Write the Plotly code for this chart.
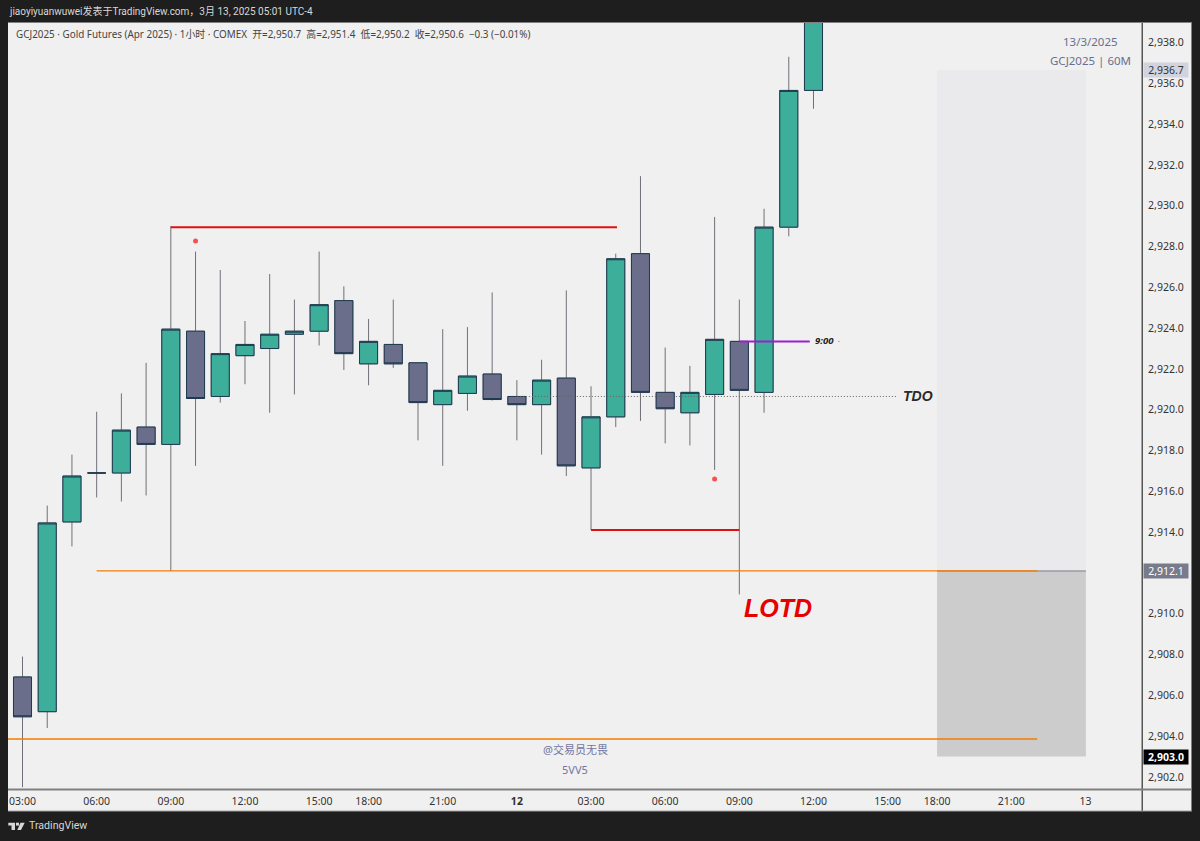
import plotly.graph_objects as go

# ---------- data ----------
opens = [2906.9, 2905.2, 2914.5, 2916.9, 2916.9, 2919.15, 2918.3, 2923.85, 2920.65, 2922.65, 2923.0,
         2923.7, 2923.85, 2925.35, 2922.25, 2923.2, 2922.3, 2920.25, 2920.8, 2921.75, 2920.65, 2920.25,
         2921.55, 2917.15, 2919.65, 2927.65, 2920.85, 2919.85, 2920.75, 2923.35, 2920.85, 2928.95, 2935.65]
closes = [2904.95, 2914.45, 2916.75, 2916.9, 2919.0, 2918.3, 2923.95, 2920.55, 2922.75, 2923.2, 2923.7,
          2923.85, 2925.15, 2922.75, 2923.35, 2922.25, 2920.35, 2920.95, 2921.65, 2920.5, 2920.25, 2921.45,
          2917.25, 2919.65, 2927.4, 2920.85, 2920.05, 2920.85, 2923.45, 2920.95, 2928.95, 2935.65, 2940.5]
highs = [2907.9, 2915.3, 2917.8, 2919.9, 2920.8, 2922.3, 2929.0, 2927.75, 2926.85, 2924.35, 2926.65,
         2925.4, 2927.75, 2926.05, 2924.45, 2925.4, 2922.3, 2923.95, 2924.05, 2925.75, 2921.45, 2922.45,
         2925.85, 2921.15, 2927.65, 2931.45, 2923.05, 2922.15, 2929.45, 2925.4, 2929.85, 2937.3, 2941.0]
lows = [2901.5, 2904.4, 2913.3, 2915.7, 2915.5, 2915.8, 2912.1, 2917.25, 2920.35, 2921.25, 2919.85,
        2920.75, 2923.15, 2921.95, 2921.2, 2922.05, 2918.5, 2917.25, 2919.95, 2920.45, 2918.5, 2917.8,
        2916.75, 2914.1, 2919.15, 2919.45, 2918.35, 2918.25, 2917.05, 2910.95, 2919.85, 2928.5, 2934.75]
bar_index = list(range(len(opens)))

tick_positions = [0, 3, 6, 9, 12, 14, 17, 20, 23, 26, 29, 32, 35, 37, 40, 43]
tick_labels = ["03:00", "06:00", "09:00", "12:00", "15:00", "18:00", "21:00", "<b>12</b>", "03:00", "06:00",
               "09:00", "12:00", "15:00", "18:00", "21:00", "13"]
price_ticks = [2902, 2904, 2906, 2908, 2910, 2914, 2916, 2918, 2920, 2922, 2924, 2926, 2928, 2930, 2932, 2934,
               2936, 2938]
dot_index = [7, 28]
dot_price = [2928.27, 2916.6]

FONT = "Noto Sans, Noto Sans CJK SC, sans-serif"
UP, DOWN, EDGE, WICK = "#3CAE9A", "#6B6E8A", "#1F3A50", "#707078"
BG, DARK = "#F0F0F0", "#1E1E1E"

# ---------- pixel helpers for the frame ----------
L, R, T, B = 8, 1142, 22, 789
px = lambda x: (x - L) / (R - L)
py = lambda y: (B - y) / (B - T)

fig = go.Figure()
fig.add_trace(go.Candlestick(
    x=bar_index, open=opens, high=highs, low=lows, close=closes, whiskerwidth=0, hoverinfo="skip", showlegend=False,
    increasing=dict(line=dict(color=WICK, width=1), fillcolor=UP),
    decreasing=dict(line=dict(color=WICK, width=1), fillcolor=DOWN)))
fig.add_trace(go.Candlestick(
    x=bar_index, open=opens, close=closes,
    high=[max(a, b) for a, b in zip(opens, closes)], low=[min(a, b) for a, b in zip(opens, closes)],
    whiskerwidth=0, hoverinfo="skip", showlegend=False,
    increasing=dict(line=dict(color=EDGE, width=1), fillcolor=UP),
    decreasing=dict(line=dict(color=EDGE, width=1), fillcolor=DOWN)))
fig.add_trace(go.Scatter(x=dot_index, y=dot_price, mode="markers", hoverinfo="skip", showlegend=False,
                         marker=dict(color="#F65050", size=5)))

shapes = []
def paper_rect(x0, y0, x1, y1, fill, layer="below"):
    shapes.append(dict(type="rect", xref="paper", yref="paper", x0=px(x0), x1=px(x1), y0=py(y0), y1=py(y1),
                       fillcolor=fill, line_width=0, layer=layer))
def data_line(x0, x1, y, color, width, dash="solid"):
    shapes.append(dict(type="line", xref="x", yref="y", x0=x0, x1=x1, y0=y, y1=y,
                       line=dict(color=color, width=width, dash=dash), layer="above"))

# frame
paper_rect(8, 22, 1192, 811, BG)
# position tool
shapes.append(dict(type="rect", xref="x", yref="y", x0=37, x1=43.02, y0=2912.1, y1=2936.65,
                   fillcolor="#EAEAEC", line_width=0, layer="below"))
shapes.append(dict(type="rect", xref="x", yref="y", x0=37, x1=43.02, y0=2903.0, y1=2912.1,
                   fillcolor="#CCCCCC", line_width=0, layer="below"))
data_line(37, 43.02, 2912.1, "#9A9AA4", 1.5)
# levels
data_line(6, 24.05, 2928.95, "#E01010", 2)
data_line(23, 29, 2914.1, "#E01010", 2)
data_line(3, 41.05, 2912.1, "#F57C00", 1.3)
data_line(-0.6, 41.05, 2903.86, "#F57C00", 1.5)
data_line(29, 31.85, 2923.35, "#9C1FCF", 2)
data_line(33, 33.05, 2923.35, "#C060E0", 1)
data_line(20, 35.4, 2920.65, "#666666", 1, "1px,2px")
# frame lines
paper_rect(1141.5, 22, 1143, 811, "#555555", "above")
paper_rect(8, 788.5, 1192, 790.5, "#808080", "above")
paper_rect(8, 22, 1192, 23, "#808080", "above")
paper_rect(8, 810.5, 1192, 811.5, "#A0A0A0", "above")
paper_rect(1191, 22, 1192, 811, "#808080", "above")
# TradingView logo
def logo(pts):
    d = "M" + " L".join(f"{px(a)},{py(b)}" for a, b in pts) + " Z"
    shapes.append(dict(type="path", xref="paper", yref="paper", path=d, fillcolor="#D8D8D8", line_width=0, layer="above"))
logo([(8.3, 822.7), (15, 822.7), (15, 830), (11.5, 830), (11.5, 825.6), (8.3, 825.6)])
logo([(16, 822.7), (19, 822.7), (19, 825.6), (16, 825.6)])
logo([(20.5, 822.7), (24.7, 822.7), (21, 830), (17.3, 830)])

ann = []
def text(x, y, s, size, color, anchor="left", **kw):
    ann.append(dict(xref="paper", yref="paper", x=px(x), y=py(y), text=s, showarrow=False, xanchor=anchor,
                    yanchor="middle", font=dict(family=kw.pop("family", FONT), size=size, color=color), **kw))

text(7, 11, "jiaoyiyuanwuwei发表于TradingView.com，3月 13, 2025 05:01 UTC-4", 10, "#D8D8D8",
     family="Roboto, Noto Sans CJK SC, sans-serif")
text(14, 34, "GCJ2025 · Gold Futures (Apr 2025) · 1小时 · COMEX  开=2,950.7  高=2,951.4  低=2,950.2  收=2,950.6  −0.3 (−0.01%)", 9.9, "#444444")
text(1090.5, 41, "13/3/2025", 11.5, "#6B6E8F", "center")
text(1090.5, 60, "GCJ2025 | 60M", 11.5, "#6B6E8F", "center")
text(575, 749, "@交易员无畏", 11, "#7275A0", "center")
text(575, 769, "5VV5", 11, "#7275A0", "center")
text(813, 340.5, "<b><i>9:00</i></b>", 9.5, "#222222")
text(901, 396, "<b><i>TDO</i></b>", 14, "#2A2A2A", family="Liberation Sans")
text(742, 608, "<b><i>LOTD</i></b>", 25, "#E60000", family="Liberation Sans")
text(27, 826, "TradingView", 10.6, "#D8D8D8", family="Roboto, sans-serif")
# price tags
for y, s, bg, fg in [(70.5, "2,936.7", "#D1D4DF", "#333333"), (571, "2,912.1", "#787B8A", "#FFFFFF"),
                     (757, "<b>2,903.0</b>", "#000000", "#FFFFFF")]:
    ann.append(dict(xref="paper", yref="paper", x=px(1143), y=py(y), text=s, showarrow=False, xanchor="left",
                    yanchor="middle", width=44, height=14, align="center", bgcolor=bg, borderpad=0,
                    font=dict(family=FONT, size=10.5, color=fg)))

fig.update_layout(
    width=1200, height=841, margin=dict(l=L, r=1200 - R, t=T, b=841 - B),
    paper_bgcolor=DARK, plot_bgcolor=BG, boxgap=0.27, boxgroupgap=0, showlegend=False, separators=".,",
    shapes=shapes, annotations=ann, font=dict(family=FONT),
    xaxis=dict(range=[-0.587, 45.29], rangeslider=dict(visible=False), showgrid=False, zeroline=False,
               tickmode="array", tickvals=tick_positions, ticktext=tick_labels, ticks="outside", ticklen=2,
               tickcolor="rgba(0,0,0,0)", tickfont=dict(size=10.5, color="#333333", family=FONT)),
    yaxis=dict(range=[2901.41, 2939.005], side="right", showgrid=False, zeroline=False,
               tickmode="array", tickvals=price_ticks,
               tickformat=",.1f", ticks="outside", ticklen=3, tickcolor="rgba(0,0,0,0)",
               tickfont=dict(size=10.5, color="#333333", family=FONT)),
)
fig.write_html("out.html", config=dict(displayModeBar=False),
               post_script="document.body.style.margin='0';document.body.style.overflow='hidden';")
